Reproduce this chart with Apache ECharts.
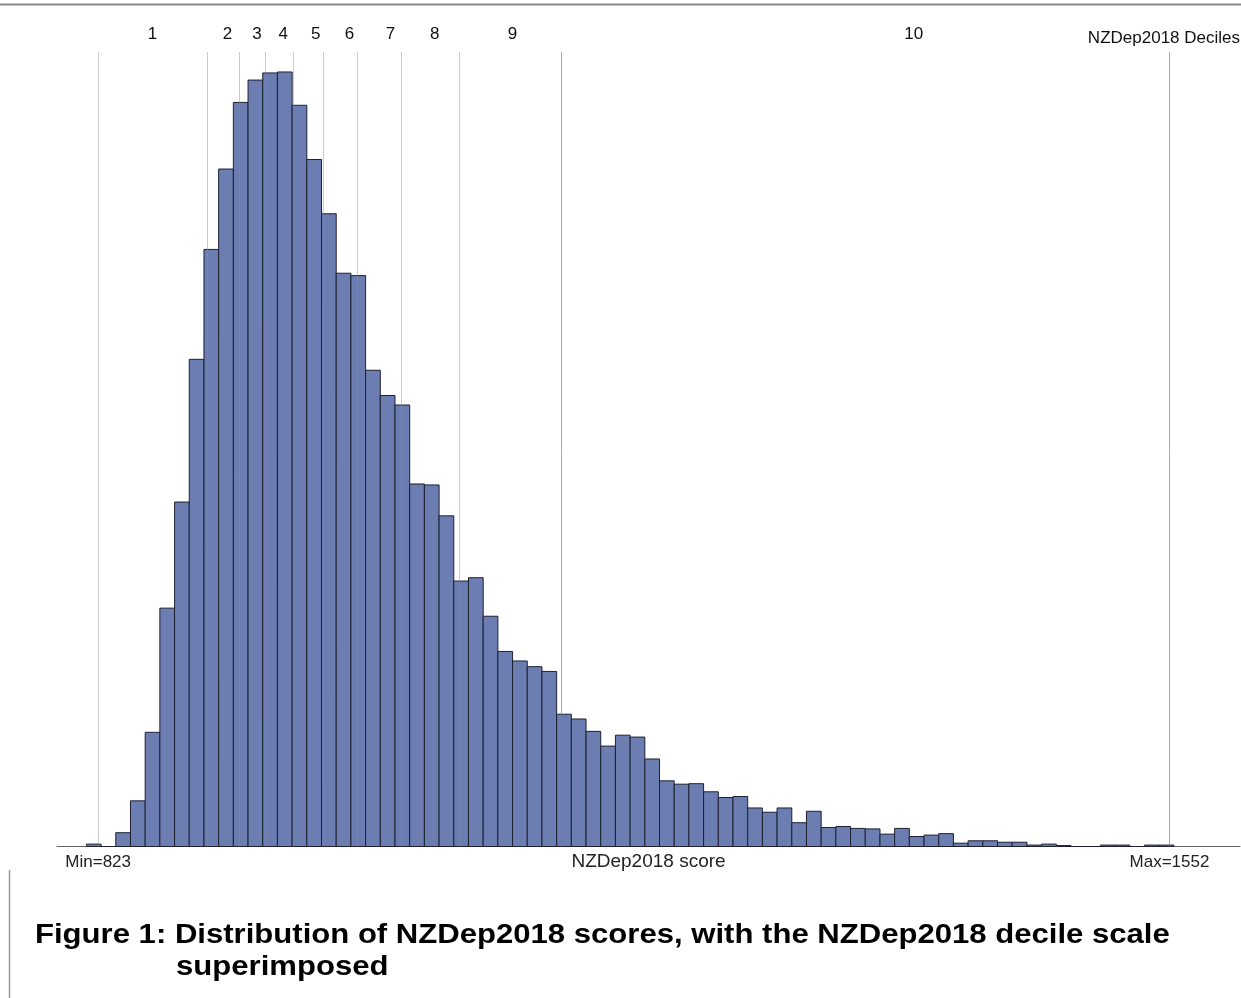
<!DOCTYPE html>
<html>
<head>
<meta charset="utf-8">
<script src="https://cdn.jsdelivr.net/npm/echarts@6/dist/echarts.min.js"></script>
<style>html,body{margin:0;padding:0;background:#fff}#c{width:1241px;height:998px}</style>
</head>
<body>
<div id="c"></div>
<script>
// Histogram bins: each bin is [binStart, binStart + binWidth)
const firstBinStart = 815;
const binWidth = 10;
const counts = [5, 0, 29, 96, 240, 501, 724, 1024, 1255, 1424,
  1564, 1611, 1626, 1628, 1558, 1444, 1330, 1205, 1200, 1001,
  948, 928, 762, 760, 695, 558, 565, 484, 410, 390,
  378, 368, 278, 268, 242, 211, 234, 230, 184, 138,
  131, 132, 115, 103, 105, 81, 72, 81, 50, 74,
  40, 42, 38, 37, 26, 38, 21, 24, 27, 7,
  12, 12, 9, 9, 3, 5, 2, 0, 0, 3,
  3, 0, 3, 3];
const minScore = 823;
const maxScore = 1552;
const decileCuts = [897, 919, 937, 956, 976, 999, 1029, 1069, 1138];
const decileLabels = ['1', '2', '3', '4', '5', '6', '7', '8', '9', '10'];
const decileLabelPos = [860, 911, 931, 949, 971, 994, 1022, 1052, 1105, 1378];

const FONT = "'Liberation Sans', Arial, sans-serif";
const binData = counts.map((c, i) => [firstBinStart + i * binWidth, firstBinStart + (i + 1) * binWidth, c]);

const lineLight = 'rgba(140,140,140,0.45)';
const lineDark = 'rgba(120,120,120,0.62)';
const markData = [{ xAxis: minScore, lineStyle: { color: lineLight } }]
  .concat(decileCuts.map((v, i) => ({ xAxis: v, lineStyle: { color: i === decileCuts.length - 1 ? lineDark : lineLight } })))
  .concat([{ xAxis: maxScore, lineStyle: { color: lineDark } }]);

const chart = echarts.init(document.getElementById('c'), null, { renderer: 'canvas' });
chart.setOption({
  animation: false,
  backgroundColor: '#fff',
  title: [
    { text: 'NZDep2018 Deciles', right: 1, top: 30, padding: 0,
      textStyle: { fontFamily: FONT, fontSize: 17, fontWeight: 'normal', color: '#111' } }
  ],
  graphic: [
    { type: 'line', shape: { x1: 0, y1: 4.5, x2: 1241, y2: 4.5 }, style: { stroke: '#8a8a8a', lineWidth: 2 }, silent: true },
    { type: 'line', shape: { x1: 9.5, y1: 870, x2: 9.5, y2: 998 }, style: { stroke: '#9a9a9a', lineWidth: 1.5 }, silent: true },
    { type: 'text', x: 35, y: 935, scaleX: 1.11, silent: true,
      style: { text: 'Figure 1: Distribution of NZDep2018 scores, with the NZDep2018 decile scale',
        font: "bold 28px 'Liberation Sans', Arial, sans-serif", fill: '#000', verticalAlign: 'middle', align: 'left' } },
    { type: 'text', x: 176, y: 967, scaleX: 1.11, silent: true,
      style: { text: 'superimposed',
        font: "bold 28px 'Liberation Sans', Arial, sans-serif", fill: '#000', verticalAlign: 'middle', align: 'left' } }
  ],
  grid: { left: 57, right: 1, top: 52, bottom: 151.5 },
  xAxis: [
    {
      type: 'value', min: 795, max: 1600, position: 'bottom',
      name: 'NZDep2018 score', nameLocation: 'middle', nameGap: 6, nameMoveOverlap: false,
      nameTextStyle: { fontFamily: FONT, fontSize: 19, color: '#222', verticalAlign: 'top' },
      axisLine: { show: true, lineStyle: { color: '#666', width: 1 } },
      axisTick: { show: false },
      splitLine: { show: false },
      axisLabel: {
        customValues: [minScore, maxScore], margin: 7,
        fontFamily: FONT, fontSize: 17, color: '#222',
        formatter: v => (v === minScore ? 'Min=' + minScore : 'Max=' + maxScore)
      }
    },
    {
      type: 'value', min: 795, max: 1600, position: 'top',
      axisLine: { show: false }, axisTick: { show: false }, splitLine: { show: false },
      axisLabel: {
        customValues: decileLabelPos, margin: 9,
        fontFamily: FONT, fontSize: 17, color: '#111',
        formatter: v => decileLabels[decileLabelPos.indexOf(v)]
      }
    }
  ],
  yAxis: { type: 'value', min: 0, max: 1670, show: false, splitLine: { show: false } },
  series: [{
    type: 'custom',
    xAxisIndex: 0,
    data: binData,
    encode: { x: [0, 1], y: 2 },
    clip: false,
    renderItem: function (params, api) {
      const p0 = api.coord([api.value(0), api.value(2)]);
      const p1 = api.coord([api.value(1), 0]);
      return {
        type: 'rect',
        shape: { x: p0[0], y: p0[1], width: p1[0] - p0[0], height: p1[1] - p0[1] },
        style: { fill: '#6c7db2', stroke: '#1e2030', lineWidth: 1 }
      };
    },
    markLine: {
      silent: true, symbol: 'none', label: { show: false },
      lineStyle: { type: 'solid', width: 1 },
      data: markData
    }
  }]
});
</script>
</body>
</html>
